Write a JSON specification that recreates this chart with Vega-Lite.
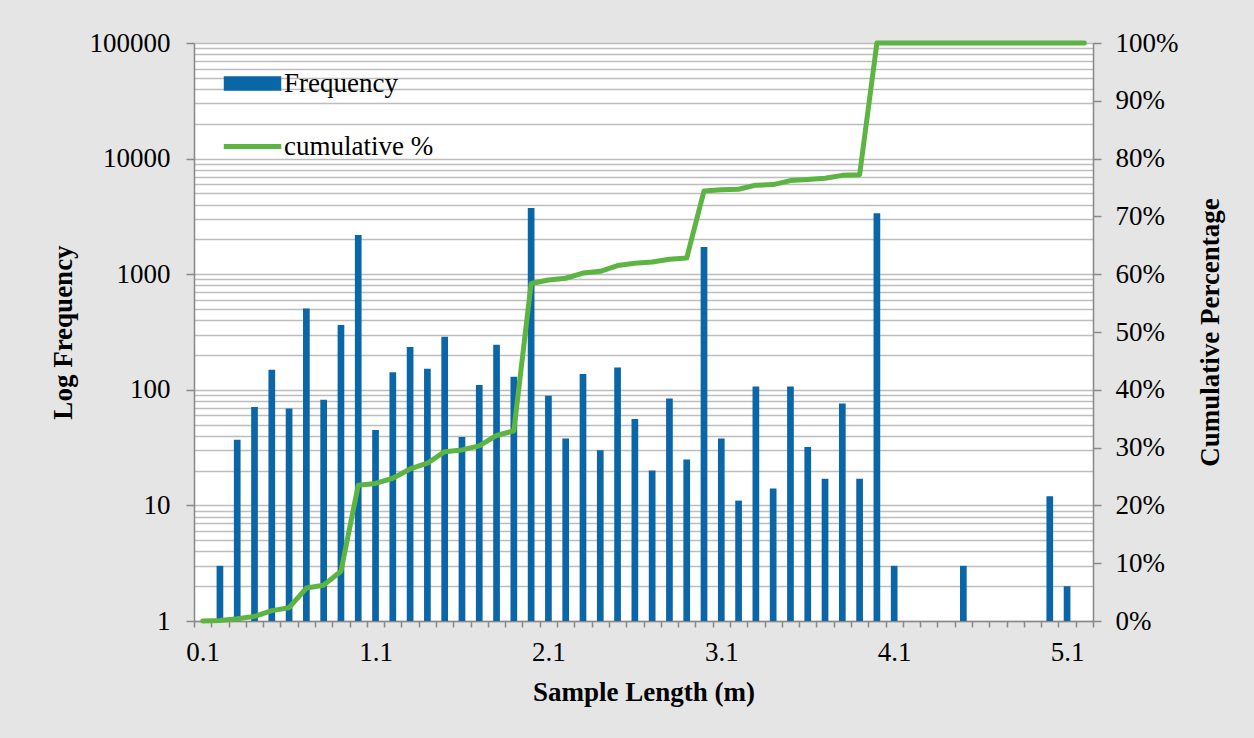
{
  "$schema": "https://vega.github.io/schema/vega-lite/v6.json",
  "width": 899,
  "height": 578,
  "autosize": {"type": "none"},
  "padding": {"left": 194, "top": 43, "right": 161, "bottom": 117},
  "background": "#e5e5e5",
  "view": {"fill": "white", "stroke": null},
  "config": {"font": "Liberation Serif"},
  "data": {"values": [
    {"len": "0.1", "freq": null, "cum": 0.0},
    {"len": "0.2", "freq": 3, "cum": 0.001},
    {"len": "0.3", "freq": 37, "cum": 0.004},
    {"len": "0.4", "freq": 71, "cum": 0.008},
    {"len": "0.5", "freq": 149, "cum": 0.018},
    {"len": "0.6", "freq": 69, "cum": 0.023},
    {"len": "0.7", "freq": 506, "cum": 0.057},
    {"len": "0.8", "freq": 82, "cum": 0.062},
    {"len": "0.9", "freq": 363, "cum": 0.086},
    {"len": "1.0", "freq": 2185, "cum": 0.235},
    {"len": "1.1", "freq": 45, "cum": 0.238},
    {"len": "1.2", "freq": 142, "cum": 0.247},
    {"len": "1.3", "freq": 234, "cum": 0.263},
    {"len": "1.4", "freq": 152, "cum": 0.273},
    {"len": "1.5", "freq": 288, "cum": 0.293},
    {"len": "1.6", "freq": 39, "cum": 0.296},
    {"len": "1.7", "freq": 110, "cum": 0.303},
    {"len": "1.8", "freq": 245, "cum": 0.321},
    {"len": "1.9", "freq": 130, "cum": 0.329},
    {"len": "2.0", "freq": 3742, "cum": 0.584},
    {"len": "2.1", "freq": 89, "cum": 0.59},
    {"len": "2.2", "freq": 38, "cum": 0.593},
    {"len": "2.3", "freq": 137, "cum": 0.602},
    {"len": "2.4", "freq": 30, "cum": 0.605},
    {"len": "2.5", "freq": 156, "cum": 0.615},
    {"len": "2.6", "freq": 56, "cum": 0.619},
    {"len": "2.7", "freq": 20, "cum": 0.621},
    {"len": "2.8", "freq": 84, "cum": 0.626},
    {"len": "2.9", "freq": 25, "cum": 0.628},
    {"len": "3.0", "freq": 1721, "cum": 0.744},
    {"len": "3.1", "freq": 38, "cum": 0.746},
    {"len": "3.2", "freq": 11, "cum": 0.747},
    {"len": "3.3", "freq": 107, "cum": 0.754},
    {"len": "3.4", "freq": 14, "cum": 0.755},
    {"len": "3.5", "freq": 107, "cum": 0.762},
    {"len": "3.6", "freq": 32, "cum": 0.764},
    {"len": "3.7", "freq": 17, "cum": 0.766},
    {"len": "3.8", "freq": 76, "cum": 0.771},
    {"len": "3.9", "freq": 17, "cum": 0.772},
    {"len": "4.0", "freq": 3360, "cum": 1.0},
    {"len": "4.1", "freq": 3, "cum": 1.0},
    {"len": "4.2", "freq": null, "cum": 1.0},
    {"len": "4.3", "freq": null, "cum": 1.0},
    {"len": "4.4", "freq": null, "cum": 1.0},
    {"len": "4.5", "freq": 3, "cum": 1.0},
    {"len": "4.6", "freq": null, "cum": 1.0},
    {"len": "4.7", "freq": null, "cum": 1.0},
    {"len": "4.8", "freq": null, "cum": 1.0},
    {"len": "4.9", "freq": null, "cum": 1.0},
    {"len": "5.0", "freq": 12, "cum": 1.0},
    {"len": "5.1", "freq": 2, "cum": 1.0},
    {"len": "5.2", "freq": null, "cum": 1.0}
  ]},
  "encoding": {
    "x": {
      "field": "len",
      "type": "ordinal",
      "scale": {"paddingInner": 0, "paddingOuter": 0},
      "axis": {
        "title": "Sample Length (m)",
        "labelExpr": "indexof(['0.1','1.1','2.1','3.1','4.1','5.1'], datum.value) >= 0 ? datum.value : ''",
        "labelAngle": 0,
        "labelOverlap": false,
        "labelFlush": false,
        "tickBand": "extent",
        "tickSize": 6,
        "tickColor": "#888888",
        "tickWidth": 1.5,
        "domainColor": "#888888",
        "domainWidth": 1.5,
        "grid": false,
        "labelFont": "Liberation Serif",
        "labelFontSize": 27,
        "labelColor": "black",
        "labelPadding": 12,
        "titleFont": "Liberation Serif",
        "titleFontSize": 27,
        "titleFontWeight": "bold",
        "titleColor": "black",
        "titlePadding": 14
      }
    }
  },
  "layer": [
    {
      "transform": [{"filter": "datum.freq != null && datum.freq > 0"}],
      "mark": {"type": "bar", "size": 6.7},
      "encoding": {
        "y": {
          "field": "freq",
          "type": "quantitative",
          "stack": null,
          "scale": {"type": "log", "domain": [1, 100000], "nice": false},
          "axis": {
            "title": "Log Frequency",
            "orient": "left",
            "values": [1,2,3,4,5,6,7,8,9,10,20,30,40,50,60,70,80,90,100,200,300,400,500,600,700,800,900,1000,2000,3000,4000,5000,6000,7000,8000,9000,10000,20000,30000,40000,50000,60000,70000,80000,90000,100000],
            "labelExpr": "indexof([1,10,100,1000,10000,100000], datum.value) >= 0 ? '' + datum.value : ''",
            "labelOverlap": false,
            "labelFlush": false,
            "grid": true,
            "gridColor": "#bdbdbd",
            "gridWidth": 1.3,
            "tickOpacity": {"condition": {"test": "indexof([1,10,100,1000,10000,100000], datum.value) >= 0", "value": 1}, "value": 0},
            "tickSize": 8,
            "tickColor": "#888888",
            "tickWidth": 1.5,
            "domainColor": "#888888",
            "domainWidth": 1.5,
            "labelFont": "Liberation Serif",
            "labelFontSize": 27,
            "labelColor": "black",
            "labelPadding": 16,
            "titleFont": "Liberation Serif",
            "titleFontSize": 27,
            "titleFontWeight": "bold",
            "titleColor": "black",
            "titlePadding": 12
          }
        },
        "y2": {"datum": 1},
        "color": {
          "datum": "Frequency",
          "type": "nominal",
          "scale": {"domain": ["Frequency", "cumulative %"], "range": ["#0a66a6", "#5cb443"]},
          "legend": {
            "title": null,
            "orient": "none",
            "legendX": 45,
            "legendY": 27,
            "padding": 0,
            "symbolSize": 3300,
            "symbolStrokeWidth": 5,
            "rowPadding": 35,
            "labelOffset": 18,
            "labelFont": "Liberation Serif",
            "labelFontSize": 27,
            "labelColor": "black",
            "encode": {
              "symbols": {
                "update": {
                  "shape": {"signal": "datum.value === 'Frequency' ? 'M-1,-0.25H1V0.25H-1Z' : 'stroke'"},
                  "fill": {"signal": "datum.value === 'Frequency' ? '#0a66a6' : 'transparent'"},
                  "stroke": {"signal": "datum.value === 'Frequency' ? 'transparent' : '#5cb443'"},
                  "strokeWidth": {"signal": "datum.value === 'Frequency' ? 0 : 5"},
                  "opacity": {"value": 1}
                }
              }
            }
          }
        }
      }
    },
    {
      "mark": {"type": "line", "strokeWidth": 5, "strokeCap": "round", "strokeJoin": "round"},
      "encoding": {
        "y": {
          "field": "cum",
          "type": "quantitative",
          "scale": {"domain": [0, 1], "nice": false},
          "axis": {
            "title": "Cumulative Percentage",
            "orient": "right",
            "values": [0,0.1,0.2,0.3,0.4,0.5,0.6,0.7,0.8,0.9,1],
            "format": ".0%",
            "grid": false,
            "titleAngle": 270,
            "tickSize": 8,
            "tickColor": "#888888",
            "tickWidth": 1.5,
            "domainColor": "#888888",
            "domainWidth": 1.5,
            "labelFont": "Liberation Serif",
            "labelFontSize": 27,
            "labelColor": "black",
            "labelPadding": 14,
            "labelFlush": false,
            "titleFont": "Liberation Serif",
            "titleFontSize": 27,
            "titleFontWeight": "bold",
            "titleColor": "black",
            "titlePadding": 47
          }
        },
        "color": {"datum": "cumulative %", "type": "nominal"}
      }
    }
  ],
  "resolve": {"scale": {"y": "independent"}, "axis": {"y": "independent"}}
}
